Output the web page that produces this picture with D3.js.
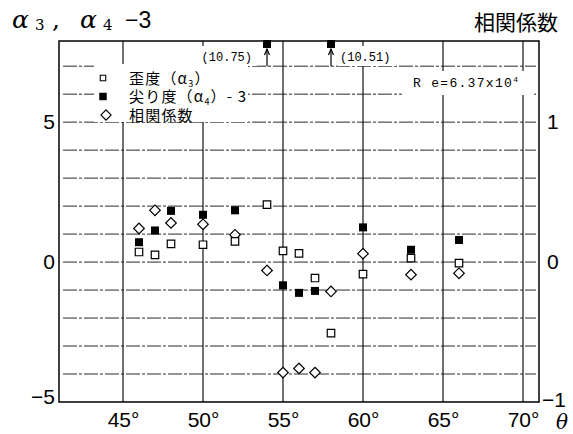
<!DOCTYPE html>
<html>
<head>
<meta charset="utf-8">
<script src="https://cdn.jsdelivr.net/npm/d3@7/dist/d3.min.js"></script>
<style>
	body { margin: 0; background: #ffffff; }
</style>
</head>
<body>
<div id="chart"></div>
<script>
// flow angle (deg) of each measuring run
var angles = [46, 47, 48, 50, 52, 54, 55, 56, 57, 58, 60, 63, 66];

// skewness alpha3 (open squares, left axis)
var skewness = [0.36, 0.26, 0.65, 0.62, 0.74, 2.05, 0.40, 0.31, -0.57, -2.54, -0.43, 0.14, -0.04];

// kurtosis alpha4 - 3 (filled squares, left axis), two values run off the top
var kurtosis = [0.71, 1.13, 1.83, 1.69, 1.85, 10.75, -0.83, -1.10, -1.03, 10.51, 1.24, 0.44, 0.79];

// correlation coefficient (diamonds, right axis)
var correlation = [0.24, 0.37, 0.28, 0.27, 0.195, -0.06, -0.79, -0.76, -0.79, -0.21, 0.06, -0.09, -0.08];

var xTicks = [45, 50, 55, 60, 65, 70];
var leftTicks = [-5, 0, 5];
var rightTicks = [-1, 0, 1];

function ScatterChart(options)
{
	var _defaultOpts = {
		el: "#chart",
		width: 573,
		height: 434,
		plotLeft: 59,
		plotRight: 539,
		plotTop: 41,
		plotBottom: 402,
		xDomain: [41, 71],
		leftDomain: [-5, 7.9],
		rightDomain: [-1, 1.58],
		tickFont: "'Liberation Sans', Arial, sans-serif",
		tickFontSize: "21px",
		cjkFont: "'Noto Sans CJK JP', sans-serif",
		monoFont: "'Liberation Mono', 'DejaVu Sans Mono', monospace"
	};

	var _options = Object.assign({}, _defaultOpts, options);
	var _svg = null;

	function init()
	{
		var o = _options;
		var svg = d3.select(o.el).append("svg")
			.attr("width", o.width)
			.attr("height", o.height)
			.style("display", "block");
		_svg = svg;

		var x = d3.scaleLinear().domain(o.xDomain).range([o.plotLeft, o.plotRight]);
		var yLeft = d3.scaleLinear().domain(o.leftDomain).range([o.plotBottom, o.plotTop]);
		var yRight = d3.scaleLinear().domain(o.rightDomain).range([o.plotBottom, o.plotTop]);

		drawGrid(svg, x, yLeft, o);
		drawCovers(svg, o);
		drawAxes(svg, x, yLeft, yRight, o);
		drawPoints(svg, x, yLeft, yRight, o);
		drawLegend(svg, o);
		drawTitles(svg, o);
	}

	function drawGrid(svg, x, yLeft, o)
	{
		// dashed horizontal lines at every unit of the left axis
		svg.append("g")
			.selectAll("line")
			.data(yLeft.ticks(13).filter(function(d) { return d > o.leftDomain[0]; }))
			.join("line")
			.attr("x1", o.plotLeft + 4)
			.attr("x2", o.plotRight - 3)
			.attr("y1", function(d) { return yLeft(d); })
			.attr("y2", function(d) { return yLeft(d); })
			.attr("stroke", "#2a2a2a")
			.attr("stroke-width", 1)
			.attr("stroke-dasharray", "14,2,3,2");

		// solid vertical lines at the labelled angles
		svg.append("g")
			.selectAll("line")
			.data(xTicks)
			.join("line")
			.attr("x1", function(d) { return x(d); })
			.attr("x2", function(d) { return x(d); })
			.attr("y1", o.plotTop)
			.attr("y2", o.plotBottom)
			.attr("stroke", "#111")
			.attr("stroke-width", 1.2);
	}

	function drawCovers(svg, o)
	{
		// white patches behind legend and labels (they hide the grid)
		var boxes = [
			[94, 64, 154, 58],
			[199, 46, 58, 20],
			[338, 46, 58, 20],
			[402, 71, 132, 24]
		];
		svg.append("g")
			.selectAll("rect")
			.data(boxes)
			.join("rect")
			.attr("x", function(d) { return d[0]; })
			.attr("y", function(d) { return d[1]; })
			.attr("width", function(d) { return d[2]; })
			.attr("height", function(d) { return d[3]; })
			.attr("fill", "#fff");

		svg.append("rect")
			.attr("x", o.plotLeft)
			.attr("y", o.plotTop)
			.attr("width", o.plotRight - o.plotLeft)
			.attr("height", o.plotBottom - o.plotTop)
			.attr("fill", "none")
			.attr("stroke", "#000")
			.attr("stroke-width", 1.5);
	}

	function drawAxes(svg, x, yLeft, yRight, o)
	{
		var fmt = d3.format("d");

		var bottom = svg.append("g")
			.attr("transform", "translate(0," + o.plotBottom + ")")
			.call(d3.axisBottom(x).tickValues(xTicks).tickSize(0).tickPadding(10)
				.tickFormat(function(d) { return d + "°"; }));

		var left = svg.append("g")
			.attr("transform", "translate(" + o.plotLeft + ",0)")
			.call(d3.axisLeft(yLeft).tickValues(leftTicks).tickSize(0).tickPadding(4).tickFormat(fmt));

		var right = svg.append("g")
			.attr("transform", "translate(" + o.plotRight + ",0)")
			.call(d3.axisRight(yRight).tickValues(rightTicks).tickSize(0).tickPadding(8).tickFormat(fmt));

		[bottom, left, right].forEach(function(g) {
			g.select(".domain").remove();
			g.selectAll("text")
				.attr("fill", "#000")
				.style("font-family", o.tickFont)
				.style("font-size", o.tickFontSize);
		});

		// lowest labels sit a bit above the corner
		left.selectAll("text").filter(function(d) { return d === leftTicks[0]; }).attr("dy", "0.05em");
		right.selectAll("text").filter(function(d) { return d === rightTicks[0]; })
			.attr("x", 3)
			.attr("dy", "0.2em");
	}

	function drawPoints(svg, x, yLeft, yRight, o)
	{
		var square = d3.symbol().type(d3.symbolSquare);
		var top = o.leftDomain[1];

		// correlation, drawn as squares turned 45 degrees
		svg.append("g")
			.selectAll("path")
			.data(angles)
			.join("path")
			.attr("d", square.size(56)())
			.attr("transform", function(d, i) {
				return "translate(" + x(d) + "," + yRight(correlation[i]) + ") rotate(45)";
			})
			.attr("fill", "#fff")
			.attr("stroke", "#000")
			.attr("stroke-width", 1.2);

		// skewness
		svg.append("g")
			.selectAll("path")
			.data(angles)
			.join("path")
			.attr("d", square.size(56)())
			.attr("transform", function(d, i) {
				return "translate(" + x(d) + "," + yLeft(skewness[i]) + ")";
			})
			.attr("fill", "#fff")
			.attr("stroke", "#000")
			.attr("stroke-width", 1.2);

		// kurtosis, clamped to the top edge when off scale
		svg.append("g")
			.selectAll("path")
			.data(angles)
			.join("path")
			.attr("d", square.size(64)())
			.attr("transform", function(d, i) {
				var v = kurtosis[i];
				var y = v > top ? o.plotTop + 3 : yLeft(v);
				return "translate(" + x(d) + "," + y + ")";
			})
			.attr("fill", "#000");

		// arrows and value labels for the off-scale points
		var over = [];
		angles.forEach(function(a, i) {
			if (kurtosis[i] > top) over.push({angle: a, value: kurtosis[i]});
		});

		var g = svg.append("g");
		over.forEach(function(d, k) {
			var ax = x(d.angle);
			g.append("line")
				.attr("x1", ax).attr("x2", ax)
				.attr("y1", yLeft(7)).attr("y2", o.plotTop + 9)
				.attr("stroke", "#000")
				.attr("stroke-width", 1.2);
			g.append("path")
				.attr("d", "M" + (ax - 2.5) + "," + (o.plotTop + 14) + "L" + ax + "," + (o.plotTop + 8) + "L" + (ax + 2.5) + "," + (o.plotTop + 14))
				.attr("fill", "none")
				.attr("stroke", "#000")
				.attr("stroke-width", 1.2);
			g.append("text")
				.attr("x", k === 0 ? ax - 15 : ax + 9)
				.attr("y", o.plotTop + 20)
				.attr("text-anchor", k === 0 ? "end" : "start")
				.attr("fill", "#000")
				.style("font-family", o.monoFont)
				.style("font-size", "12px")
				.text("(" + d3.format(".2f")(d.value) + ")");
		});

		// Reynolds number note
		var re = svg.append("text")
			.attr("x", 413)
			.attr("y", 87)
			.attr("fill", "#000")
			.style("font-family", o.monoFont)
			.style("font-size", "13px")
			.style("letter-spacing", "1.3px");
		re.append("tspan").text("R e=6.37x10");
		re.append("tspan").attr("dy", "-5").style("font-size", "8px").text("4");
	}

	function drawLegend(svg, o)
	{
		var rows = [
			{name: "歪度（α", sub: "3", tail: "）", kind: "open"},
			{name: "尖り度（α", sub: "4", tail: "）- 3", kind: "filled"},
			{name: "相関係数", sub: "", tail: "", kind: "diamond"}
		];
		var square = d3.symbol().type(d3.symbolSquare);

		rows.forEach(function(item, idx) {
			var y = 78 + idx * 18.5;

			var mark = svg.append("path")
				.attr("d", square.size(item.kind === "diamond" ? 52 : (item.kind === "open" ? 30 : 56))())
				.attr("transform", "translate(" + (item.kind === "diamond" ? 106 : 103) + "," + y + ")" +
					(item.kind === "diamond" ? " rotate(45)" : ""));
			if (item.kind === "filled")
				mark.attr("fill", "#000");
			else
				mark.attr("fill", "#fff").attr("stroke", "#000").attr("stroke-width", 1.1);

			var label = svg.append("text")
				.attr("x", 129)
				.attr("y", y + 5.5)
				.attr("fill", "#000")
				.style("font-family", o.cjkFont)
				.style("font-size", "15px")
				.style("letter-spacing", "1.2px");
			label.append("tspan").text(item.name);
			if (item.sub) {
				label.append("tspan").attr("dy", "3").style("font-size", "9px").text(item.sub);
				label.append("tspan").attr("dy", "-3").text(item.tail);
			}
		});
	}

	function drawTitles(svg, o)
	{
		var t = svg.append("text")
			.attr("x", 12)
			.attr("y", 28)
			.attr("fill", "#000")
			.style("font-family", "'DejaVu Serif', serif")
			.style("font-size", "25px");
		t.append("tspan").style("font-style", "italic").text("α");
		t.append("tspan").attr("x", 35).attr("dy", "2").style("font-size", "15px").text("3");
		t.append("tspan").attr("x", 52).attr("dy", "-2").text(",");
		t.append("tspan").attr("x", 80).style("font-style", "italic").text("α");
		t.append("tspan").attr("x", 103).attr("dy", "2").style("font-size", "15px").text("4");
		t.append("tspan").attr("x", 125).attr("dy", "-2").style("font-family", o.tickFont).style("font-size", "23px").text("−3");

		svg.append("text")
			.attr("x", 558)
			.attr("y", 30)
			.attr("text-anchor", "end")
			.attr("fill", "#000")
			.style("font-family", o.cjkFont)
			.style("font-size", "21px")
			.text("相関係数");

		svg.append("text")
			.attr("x", 556)
			.attr("y", 429)
			.attr("fill", "#000")
			.style("font-family", "'DejaVu Serif', serif")
			.style("font-style", "italic")
			.style("font-size", "20px")
			.text("θ");
	}

	this.init = init;
}

var chart = new ScatterChart({el: "#chart"});
chart.init();
</script>
</body>
</html>
